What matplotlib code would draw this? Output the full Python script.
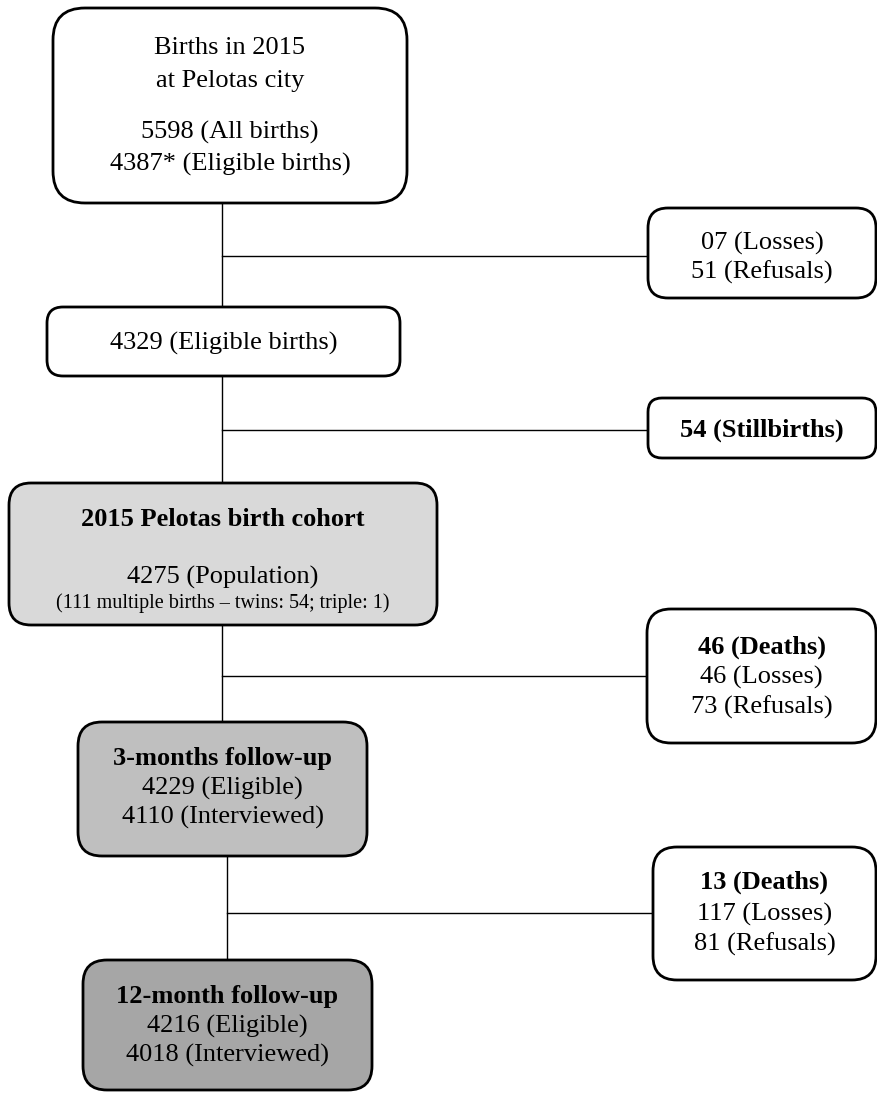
import matplotlib.pyplot as plt
from matplotlib.patches import FancyBboxPatch

plt.rcParams['font.family'] = ['Liberation Serif', 'DejaVu Serif']

# text of the main (left) column boxes, top to bottom: (line, bold)
main_text = [
    [("Births in 2015", False), ("at Pelotas city", False),
     ("5598 (All births)", False), ("4387* (Eligible births)", False)],
    [("4329 (Eligible births)", False)],
    [("2015 Pelotas birth cohort", True), ("4275 (Population)", False),
     ("(111 multiple births \u2013 twins: 54; triple: 1)", False)],
    [("3-months follow-up", True), ("4229 (Eligible)", False), ("4110 (Interviewed)", False)],
    [("12-month follow-up", True), ("4216 (Eligible)", False), ("4018 (Interviewed)", False)],
]
# text of the side (exclusion) boxes
side_text = [
    [("07 (Losses)", False), ("51 (Refusals)", False)],
    [("54 (Stillbirths)", True)],
    [("46 (Deaths)", True), ("46 (Losses)", False), ("73 (Refusals)", False)],
    [("13 (Deaths)", True), ("117 (Losses)", False), ("81 (Refusals)", False)],
]
main_fill = ['white', 'white', '#d9d9d9', '#bfbfbf', '#a6a6a6']

# layout in pixels: x0, y0, x1, y1, corner radius, line centres
main_geom = [
    (53, 8, 407, 203, 32, [48, 81, 132, 164]),
    (47, 307, 400, 376, 16, [343]),
    (9, 483, 437, 625, 22, [519, 577, 603]),
    (78, 722, 367, 856, 24, [759, 788, 817]),
    (83, 960, 372, 1090, 24, [996, 1026, 1055]),
]
side_geom = [
    (648, 208, 876, 298, 20, [243, 272]),
    (648, 398, 876, 458, 14, [430]),
    (647, 609, 876, 743, 24, [647, 677, 707]),
    (653, 847, 876, 980, 24, [882, 914, 944]),
]
# trunk x and branch y for each step between main boxes
trunk_x = [222, 222, 222, 227]
branch_y = [256, 430, 676, 913]
small_lines = {"(111 multiple births \u2013 twins: 54; triple: 1)": 14.5}

fig = plt.figure(figsize=(8.77, 10.93), dpi=100)
ax = fig.add_axes([0, 0, 1, 1])
ax.set_xlim(0, 877)
ax.set_ylim(1093, 0)
ax.axis('off')


def draw_box(geom, lines, fill):
    x0, y0, x1, y1, r, ys = geom
    ax.add_patch(FancyBboxPatch((x0, y0), x1 - x0, y1 - y0,
                                boxstyle="round,pad=0,rounding_size=%d" % r,
                                fc=fill, ec='black', lw=2.0, zorder=2))
    for (txt, bold), y in zip(lines, ys):
        ax.text((x0 + x1) / 2, y, txt, ha='center', va='center',
                fontsize=small_lines.get(txt, 19),
                fontweight='bold' if bold else 'normal', zorder=3)


for g, t, f in zip(main_geom, main_text, main_fill):
    draw_box(g, t, f)
for g, t in zip(side_geom, side_text):
    draw_box(g, t, 'white')

for i in range(4):
    x = trunk_x[i]
    ax.plot([x, x], [main_geom[i][3], main_geom[i + 1][1]], color='black', lw=1.0, zorder=1)
    ax.plot([x, side_geom[i][0]], [branch_y[i], branch_y[i]], color='black', lw=1.0, zorder=1)

fig.savefig('out.png', dpi=100, facecolor='white')
